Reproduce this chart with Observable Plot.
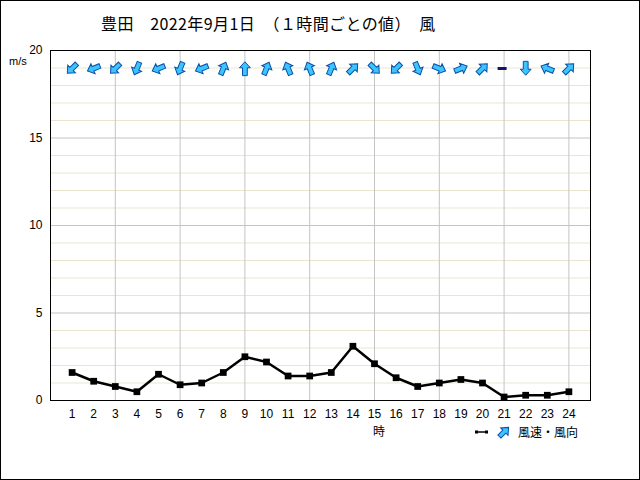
<!DOCTYPE html>
<html><head><meta charset="utf-8">
<script src="https://cdn.jsdelivr.net/npm/d3@7"></script>
<script src="https://cdn.jsdelivr.net/npm/@observablehq/plot@0.6"></script>
<style>
body{margin:0;background:#fff;}
#wrap{position:relative;width:640px;height:480px;overflow:hidden;font-family:"Noto Sans CJK JP",sans-serif;background:#fff;}
#wrap svg.plot{position:absolute;left:0;top:0;}
#border{position:absolute;left:0;top:0;width:638px;height:478px;border:1px solid #000;pointer-events:none;}
.lbl{position:absolute;white-space:nowrap;color:#000;line-height:1;}
</style></head><body>
<div id="wrap"></div>
<script>
const title = "豊田　2022年9月1日　（１時間ごとの値）　風";
const unitLabel = "m/s";
const xAxisLabel = "時";
const legendLabel = "風速・風向";
const hours = [1,2,3,4,5,6,7,8,9,10,11,12,13,14,15,16,17,18,19,20,21,22,23,24];
const speed = [1.6,1.1,0.8,0.5,1.5,0.9,1.0,1.6,2.5,2.2,1.4,1.4,1.6,3.1,2.1,1.3,0.8,1.0,1.2,1.0,0.2,0.3,0.3,0.5];
const direction = ["北東","東北東","北東","北北東","東北東","北北東","東北東","南南西","南","南南西","南南東","南南東","南南西","南西","北西","北東","北北西","西北西","西南西","南西","静穏","北","東南東","南西"];
const compass = ["北","北北東","北東","東北東","東","東南東","南東","南南東","南","南南西","南西","西南西","西","西北西","北西","北北西"];
const yTicks = [0,5,10,15,20];
const yMinor = [1,2,3,4,6,7,8,9,11,12,13,14,16,17,18,19];
const xGrid = [3,6,9,12,15,18,21,24];

const data = hours.map((h,i)=>({hour:h, speed:speed[i], dir:direction[i],
  rot: direction[i]==="静穏" ? 90 : compass.indexOf(direction[i])*22.5 + 180}));

const blockArrow = { draw(ctx, l) {
  const w=2.4, hw=5.4, hl=6;
  ctx.moveTo(-w,0); ctx.lineTo(-w,-l+hl); ctx.lineTo(-hw,-l+hl); ctx.lineTo(0,-l);
  ctx.lineTo(hw,-l+hl); ctx.lineTo(w,-l+hl); ctx.lineTo(w,0); ctx.closePath();
}};
const bar = { draw(ctx, l) { ctx.moveTo(0,0); ctx.lineTo(0,-l); } };

const font = "'Liberation Sans', sans-serif";
const plot = Plot.plot({
  width:640, height:480,
  marginTop:50, marginBottom:80, marginLeft:50, marginRight:50,
  style:{background:"transparent", fontFamily:font, fontSize:"12px"},
  x:{domain:[0,25]},
  y:{domain:[0,20]},
  marks:[
    Plot.ruleY(yMinor,{stroke:"#ebe5d0", strokeWidth:1}),
    Plot.ruleY(yTicks.slice(1,-1),{stroke:"#c4c4c4", strokeWidth:1}),
    Plot.ruleX(xGrid,{stroke:"#c4c4c4", strokeWidth:1}),
    Plot.axisY({ticks:yTicks, tickSize:0, tickPadding:8, label:null, fontSize:12, fill:"#000"}),
    Plot.axisX({ticks:hours, tickSize:0, tickPadding:9, label:null, fontSize:12, fill:"#000"}),
    Plot.line(data,{x:"hour", y:"speed", stroke:"#000", strokeWidth:2.5}),
    Plot.dot(data,{x:"hour", y:"speed", symbol:"square", fill:"#000", r:3.8}),
    Plot.vector(data.filter(d=>d.dir!=="静穏"),{x:"hour", frameAnchor:"top", dy:18, rotate:"rot", length:13.5, anchor:"middle",
      shape:blockArrow, fill:"#3cc4ff", stroke:"#0a4fa8", strokeWidth:1, strokeLinejoin:"miter"}),
    Plot.vector(data.filter(d=>d.dir==="静穏"),{x:"hour", dx:-2, frameAnchor:"top", dy:18, rotate:"rot", length:9, anchor:"middle",
      shape:bar, stroke:"#141466", strokeWidth:3, strokeLinecap:"butt"}),
    Plot.frame({stroke:"#000", strokeWidth:1})
  ]
});
plot.classList.add("plot");
const wrap = document.getElementById("wrap");
wrap.appendChild(plot);

function label(text, left, top, size){
  const d=document.createElement("div"); d.className="lbl"; d.textContent=text;
  d.style.left=left+"px"; d.style.top=top+"px"; d.style.fontSize=size+"px";
  wrap.appendChild(d); return d;
}
const tl = label(title, 101, 15, 16); tl.style.letterSpacing="0.4px";
const mu = label(unitLabel, 9, 56, 11); mu.style.fontFamily=font;
label(xAxisLabel, 373, 425, 12);
// legend
const lg = document.createElement("div"); lg.className="lbl";
lg.style.left="474px"; lg.style.top="424px"; lg.style.display="flex"; lg.style.alignItems="center";
lg.innerHTML = `<svg width="16" height="14"><line x1="2" y1="7" x2="13" y2="7" stroke="#000" stroke-width="1.5"/><rect x="1" y="5.5" width="3" height="3" fill="#000"/><rect x="11" y="5.5" width="3" height="3" fill="#000"/></svg>`+
 `<svg width="28" height="16" style="margin-left:4px"><g transform="translate(10,8) rotate(45) translate(0,6.5)"><path d="M-2.2,0L-2.2,-7L-5.2,-7L0,-13L5.2,-7L2.2,-7L2.2,0Z" fill="#3cc4ff" stroke="#0a4fa8"/></g></svg>`+
 `<span style="font-size:12px;margin-left:-4px">${legendLabel}</span>`;
wrap.appendChild(lg);
const b=document.createElement("div"); b.id="border"; wrap.appendChild(b);
</script>
</body></html>
